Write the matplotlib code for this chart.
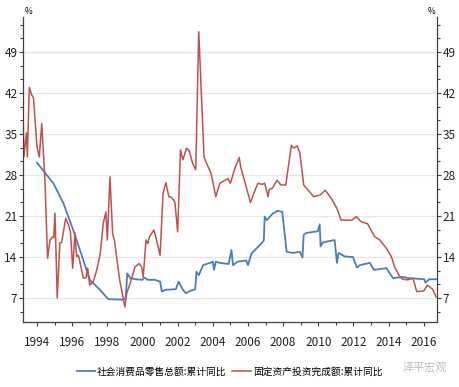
import matplotlib
matplotlib.use('Agg')
import matplotlib.pyplot as plt
from matplotlib.ticker import MultipleLocator

plt.rcParams['font.family'] = ['Liberation Sans Narrow', 'Noto Sans CJK SC', 'DejaVu Sans']
plt.rcParams['axes.unicode_minus'] = False

# Series labels
retail_label = '社会消费品零售总额:累计同比'
fai_label = '固定资产投资完成额:累计同比'

# Fixed asset investment, cumulative YoY (%)
fai_year = [1993.2, 1993.25, 1993.4, 1993.45, 1993.56, 1993.7, 1993.8, 1994.0, 1994.13, 1994.27,
            1994.45, 1994.6, 1994.74, 1994.9, 1994.95, 1995.02, 1995.15, 1995.3, 1995.4, 1995.63,
            1995.8, 1995.9, 1996.03, 1996.16, 1996.25, 1996.35, 1996.44, 1996.63, 1996.8, 1996.88,
            1997.0, 1997.2, 1997.4, 1997.6, 1997.77, 1997.92, 1998.0, 1998.15, 1998.3, 1998.4,
            1998.7, 1999.0, 1999.1, 1999.3, 1999.57, 1999.8, 1999.95, 2000.04, 2000.2, 2000.3,
            2000.4, 2000.65, 2000.75, 2001.0, 2001.17, 2001.33, 2001.5, 2001.65, 2001.84, 2002.0,
            2002.16, 2002.3, 2002.5, 2002.65, 2002.85, 2003.03, 2003.2, 2003.5, 2003.6, 2003.9,
            2004.17, 2004.4, 2004.87, 2005.0, 2005.25, 2005.5, 2005.6, 2005.9, 2006.14, 2006.4,
            2006.57, 2006.8, 2006.95, 2007.14, 2007.2, 2007.4, 2007.65, 2007.88, 2008.15, 2008.47,
            2008.6, 2008.8, 2008.95, 2009.17, 2009.4, 2009.74, 2010.1, 2010.4, 2010.74, 2011.06,
            2011.3, 2011.6, 2011.9, 2012.16, 2012.45, 2012.8, 2013.2, 2013.5, 2013.87, 2014.15,
            2014.34, 2014.6, 2014.8, 2015.1, 2015.38, 2015.6, 2016.0, 2016.2, 2016.5, 2016.7]
fai_value = [39.1, 31.1, 35.2, 31.1, 43.0, 41.7, 41.2, 32.8, 31.1, 36.8,
             27.1, 13.8, 16.9, 17.5, 17.3, 21.5, 7.0, 16.4, 16.5, 20.6,
             19.4, 18.3, 12.1, 18.1, 14.1, 14.3, 13.2, 10.4, 10.5, 12.1,
             9.2, 9.8, 11.8, 14.7, 19.8, 21.7, 16.9, 27.7, 18.0, 16.9,
             10.1, 5.5, 7.8, 9.5, 12.3, 12.9, 12.3, 10.6, 16.9, 16.3,
             17.5, 18.6, 17.5, 14.3, 24.9, 26.7, 24.3, 24.2, 23.4, 18.3,
             32.3, 30.6, 32.6, 32.2, 30.0, 28.9, 52.5, 31.1, 30.3, 28.3,
             24.3, 26.6, 27.4, 26.6, 29.1, 31.0, 29.2, 26.0, 23.3, 25.4,
             26.6, 26.4, 26.6, 24.3, 25.5, 25.8, 27.1, 26.3, 26.3, 33.1,
             32.6, 33.0, 31.8, 26.3, 25.5, 24.3, 24.6, 25.4, 24.0, 22.3,
             20.3, 20.3, 20.3, 20.9, 20.0, 19.7, 17.5, 16.9, 15.5, 14.1,
             12.3, 10.8, 10.2, 10.1, 10.4, 8.1, 8.2, 9.2, 8.5, 7.2]

# Retail sales of consumer goods, cumulative YoY (%)
retail_year = [1994.0, 1994.93, 1995.5, 1996.06, 1996.63, 1997.0, 1997.58, 1998.05, 1998.9, 1999.05,
               1999.13, 1999.3, 1999.6, 2000.0, 2000.1, 2000.3, 2000.7, 2001.0, 2001.1, 2001.3,
               2001.9, 2002.05, 2002.3, 2002.47, 2002.7, 2003.0, 2003.07, 2003.2, 2003.45, 2003.85,
               2004.0, 2004.07, 2004.17, 2004.4, 2004.9, 2005.06, 2005.15, 2005.4, 2005.9, 2006.0,
               2006.2, 2006.5, 2006.9, 2006.95, 2007.07, 2007.4, 2007.7, 2007.95, 2008.2, 2008.57,
               2008.95, 2009.1, 2009.17, 2009.3, 2009.97, 2010.08, 2010.13, 2010.26, 2010.93, 2011.06,
               2011.15, 2011.5, 2011.97, 2012.2, 2012.35, 2012.93, 2013.17, 2013.87, 2014.0, 2014.25,
               2014.82, 2015.1, 2016.03, 2016.1, 2016.3, 2016.7]
retail_value = [30.1, 26.6, 23.2, 18.6, 13.5, 10.1, 8.4, 6.8, 6.7, 7.1,
                11.2, 10.4, 10.2, 10.1, 10.5, 10.1, 10.1, 9.8, 8.1, 8.4,
                8.5, 9.8, 8.4, 7.8, 8.2, 8.5, 11.5, 10.9, 12.6, 13.0,
                13.2, 11.8, 13.2, 13.0, 12.8, 15.2, 12.6, 13.2, 13.4, 12.6,
                14.6, 15.5, 16.8, 20.9, 20.3, 21.4, 21.9, 21.7, 14.9, 14.7,
                14.9, 13.9, 17.8, 18.1, 18.4, 19.6, 15.8, 16.5, 16.9, 13.0,
                14.7, 14.1, 14.0, 12.2, 12.6, 13.0, 11.8, 12.1, 11.5, 10.4,
                10.6, 10.4, 10.2, 9.6, 10.2, 10.2]

fig = plt.figure(figsize=(4.59, 3.87), dpi=100)
ax = fig.add_axes([0.050, 0.168, 0.902, 0.788])

ax.plot(retail_year, retail_value, color='#4a7ebb', lw=1.3, label=retail_label)
ax.plot(fai_year, fai_value, color='#c0504d', lw=1.1, label=fai_label)

ax.set_xlim(1993.2, 2016.75)
ax.set_ylim(2.9, 55)

ax.xaxis.set_minor_locator(MultipleLocator(1))
ax.yaxis.set_major_locator(MultipleLocator(7))
ax.yaxis.set_minor_locator(MultipleLocator(7 / 3))
ax.set_xticks(range(1994, 2017, 2))
ax.set_xticklabels([str(y) for y in range(1994, 2017, 2)])

axis_color = '#404040'
ax.tick_params(axis='both', which='both', direction='out', color=axis_color,
               labelsize=8.5, labelcolor='#222222', right=True, labelright=True)
ax.tick_params(which='major', length=3, width=0.8)
ax.tick_params(which='minor', length=2, width=0.8)
ax.tick_params(axis='y', pad=1)
ax.tick_params(axis='x', pad=7)

for side in ['left', 'right', 'bottom']:
    ax.spines[side].set_color(axis_color)
    ax.spines[side].set_linewidth(0.9)
ax.spines['top'].set_visible(False)

ax.grid(axis='y', which='major', color='#e6e6e6', lw=0.9)
ax.set_axisbelow(True)

ax.text(0.005, 1.005, '%', transform=ax.transAxes, fontsize=6, ha='left', va='bottom')
ax.text(0.995, 1.005, '%', transform=ax.transAxes, fontsize=6, ha='right', va='bottom')

fig.legend(loc='center', bbox_to_anchor=(0.50, 0.040), ncol=2, frameon=False,
           handlelength=1.9, columnspacing=0.6, handletextpad=0.2,
           prop={'family': ['Noto Sans CJK SC', 'DejaVu Sans'], 'size': 7})

fig.text(0.925, 0.050, '泽平宏观', color='#bbbbbb', fontsize=8, ha='center', va='center',
         family=['Noto Sans CJK SC', 'DejaVu Sans'])

fig.savefig('out.png', dpi=100)
